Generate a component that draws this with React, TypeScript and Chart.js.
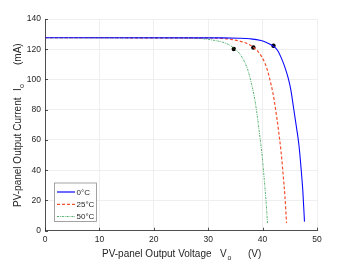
import React, { useEffect, useRef } from "react";
import { Chart, registerables } from "chart.js";

Chart.register(...registerables);

const seriesLabels = ["0°C", "25°C", "50°C"];

const v0C = [0, 32.7, 35.7, 37.7, 39.7, 40.7, 41.7, 42.7, 43.7, 44.2, 44.7, 45.2, 45.7, 46.2, 46.7, 47.1, 47.4, 47.7];
const i0C = [127.6, 127.5, 127.3, 126.9, 125.8, 124.5, 122.6, 119.5, 112, 107, 101, 93, 81, 69, 56, 40, 26, 6];

const v25C = [0, 29.4, 32.4, 34.4, 36.4, 37.4, 38.4, 39.4, 40.4, 40.9, 41.4, 41.9, 42.4, 42.9, 43.4, 43.8, 44.1, 44.4];
const i25C = [127.6, 127.5, 127.2, 126.4, 124.8, 123.3, 121, 117.5, 111, 106, 99, 91, 80, 67, 52, 36, 23, 5];

const v50C = [0, 25.9, 28.9, 30.9, 32.9, 33.9, 34.9, 35.9, 36.9, 37.4, 37.9, 38.4, 38.9, 39.4, 39.9, 40.3, 40.6, 40.9];
const i50C = [127.6, 127.4, 127, 126, 124.4, 122.8, 120.2, 116.5, 110, 105, 98, 90, 79, 65, 50, 34, 21, 5];

const mppV = [42.0, 38.3, 34.7];
const mppI = [122.3, 121.2, 120.2];

const xTicks = [0, 10, 20, 30, 40, 50];
const yTicks = [0, 20, 40, 60, 80, 100, 120, 140];

const FONT = "'Liberation Sans', Arial, sans-serif";
const TXT = "#262626";

const toPts = (v: number[], i: number[]) => v.map((x, k) => ({ x, y: i[k] }));

export default function App() {
  const ref = useRef<HTMLCanvasElement | null>(null);

  useEffect(() => {
    document.body.style.margin = "0";
    const canvas = ref.current!;
    const styles = [
      { color: "#0a0aff", dash: [] as number[], width: 1.1 },
      { color: "#f2502e", dash: [3, 2], width: 1.2 },
      { color: "#3fa65c", dash: [2, 1, 0.8, 1], width: 0.9 },
    ];

    const overlay = {
      id: "overlay",
      afterDatasetsDraw(chart: any) {
        const ctx = chart.ctx as CanvasRenderingContext2D;
        const a = chart.chartArea;
        const xs = chart.scales.x;
        const ys = chart.scales.y;
        ctx.save();
        // inward ticks
        ctx.strokeStyle = TXT;
        ctx.lineWidth = 0.8;
        ctx.beginPath();
        xTicks.forEach((t) => {
          const px = Math.round(xs.getPixelForValue(t)) + 0.5;
          ctx.moveTo(px, a.bottom);
          ctx.lineTo(px, a.bottom - 3);
        });
        yTicks.forEach((t) => {
          const py = Math.round(ys.getPixelForValue(t)) + 0.5;
          ctx.moveTo(a.left, py);
          ctx.lineTo(a.left + 3, py);
        });
        ctx.stroke();

        // legend
        const lx = 54.5, ly = 183, lw = 42, lh = 38.5;
        ctx.fillStyle = "#ffffff";
        ctx.fillRect(lx, ly, lw, lh);
        ctx.strokeStyle = "#8c8c8c";
        ctx.lineWidth = 0.8;
        ctx.strokeRect(lx, ly, lw, lh);
        const rows = [192, 204.3, 216.5];
        ctx.font = `8px ${FONT}`;
        ctx.textBaseline = "middle";
        rows.forEach((ry, k) => {
          const s = styles[k];
          ctx.strokeStyle = k === 0 ? "#6b6bff" : s.color;
          ctx.lineWidth = k === 0 ? 2 : s.width;
          ctx.setLineDash(s.dash);
          ctx.beginPath();
          ctx.moveTo(57, ry);
          ctx.lineTo(75, ry);
          ctx.stroke();
          ctx.setLineDash([]);
          ctx.fillStyle = TXT;
          ctx.textAlign = "left";
          ctx.fillText(seriesLabels[k], 76.5, ry + 0.5);
        });

        // axis titles
        ctx.fillStyle = TXT;
        ctx.textBaseline = "alphabetic";
        ctx.textAlign = "left";
        ctx.font = `10px ${FONT}`;
        ctx.fillText("PV-panel Output Voltage", 102, 257);
        ctx.fillText("V", 220, 257);
        ctx.fillText("(V)", 248, 257);
        ctx.font = `7px ${FONT}`;
        ctx.fillText("o", 227.5, 260);

        ctx.translate(20.5, 0);
        ctx.rotate(-Math.PI / 2);
        ctx.font = `10px ${FONT}`;
        ctx.fillText("PV-panel Output Current", -207, 0);
        ctx.fillText("I", -91, 0);
        ctx.fillText("(mA)", -65, 0);
        ctx.font = `7px ${FONT}`;
        ctx.fillText("o", -88, 3);
        ctx.restore();
      },
    };

    const chart = new Chart(canvas, {
      type: "scatter",
      data: {
        datasets: [
          { label: seriesLabels[0], data: toPts(v0C, i0C), showLine: true, borderColor: styles[0].color, borderWidth: styles[0].width, borderDash: styles[0].dash, pointRadius: 0, cubicInterpolationMode: "monotone" },
          { label: seriesLabels[1], data: toPts(v25C, i25C), showLine: true, borderColor: styles[1].color, borderWidth: styles[1].width, borderDash: styles[1].dash, pointRadius: 0, cubicInterpolationMode: "monotone" },
          { label: seriesLabels[2], data: toPts(v50C, i50C), showLine: true, borderColor: styles[2].color, borderWidth: styles[2].width, borderDash: styles[2].dash, pointRadius: 0, cubicInterpolationMode: "monotone" },
          { label: "MPP", data: toPts(mppV, mppI), showLine: false, pointRadius: 2.2, pointBackgroundColor: "#000", pointBorderColor: "#000", pointBorderWidth: 0 },
        ],
      } as any,
      options: {
        animation: false,
        responsive: false,
        maintainAspectRatio: false,
        layout: { padding: { left: 0, right: 33, top: 19, bottom: 0 } },
        plugins: { legend: { display: false }, tooltip: { enabled: false } },
        scales: {
          x: {
            type: "linear",
            min: 0,
            max: 50,
            afterBuildTicks: (s: any) => { s.ticks = xTicks.map((v) => ({ value: v })); },
            afterFit: (s: any) => { s.height = 32.3; },
            ticks: { color: TXT, font: { size: 8.5, family: FONT }, padding: 3.5, maxRotation: 0 },
            grid: { color: "#ebebeb", lineWidth: 0.8, drawTicks: false },
            border: { color: TXT, width: 0.8 },
          },
          y: {
            type: "linear",
            min: 0,
            max: 140,
            afterBuildTicks: (s: any) => { s.ticks = yTicks.map((v) => ({ value: v })); },
            afterFit: (s: any) => { s.width = 45; },
            ticks: { color: TXT, font: { size: 8.5, family: FONT }, padding: 4 },
            grid: { color: "#ebebeb", lineWidth: 0.8, drawTicks: false },
            border: { color: TXT, width: 0.8 },
          },
        },
      } as any,
      plugins: [overlay],
    });
    return () => chart.destroy();
  }, []);

  return (
    <div style={{ width: 350, height: 263 }}>
      <canvas ref={ref} width={350} height={263} style={{ display: "block" }} />
    </div>
  );
}
